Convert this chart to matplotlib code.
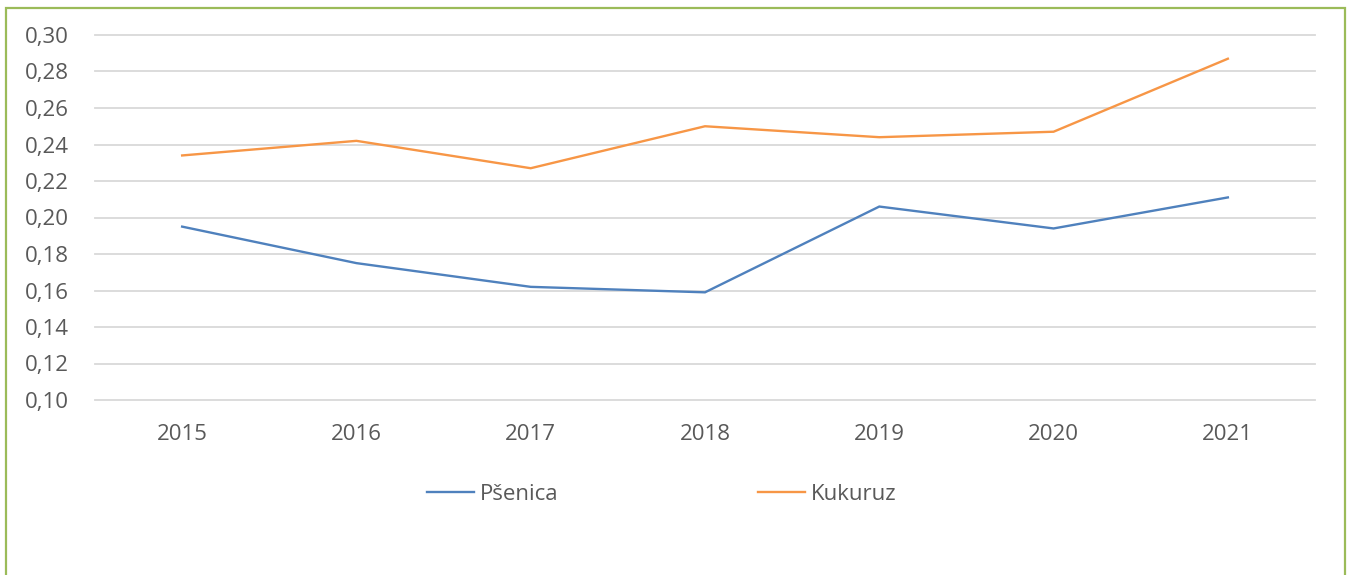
import matplotlib
matplotlib.use("Agg")
import matplotlib.pyplot as plt
from matplotlib.patches import Rectangle
from matplotlib.ticker import FuncFormatter

years = ["2015", "2016", "2017", "2018", "2019", "2020", "2021"]
psenica = [0.195, 0.175, 0.162, 0.159, 0.206, 0.194, 0.211]
kukuruz = [0.234, 0.242, 0.227, 0.250, 0.244, 0.247, 0.287]
series_names = ["Pšenica", "Kukuruz"]
yticks = [0.10, 0.12, 0.14, 0.16, 0.18, 0.20, 0.22, 0.24, 0.26, 0.28, 0.30]

plt.rcParams['font.family'] = ['Open Sans', 'DejaVu Sans']
W, H = 1352, 575
FS = 16
fig = plt.figure(figsize=(W / 100, H / 100), dpi=100)
ax = fig.add_axes([95 / W, 1 - 400 / H, (1315 - 95) / W, (400 - 35) / H])

x = list(range(len(years)))
l1, = ax.plot(x, psenica, color="#4F81BD", lw=1.7, solid_joinstyle="miter")
l2, = ax.plot(x, kukuruz, color="#F79646", lw=1.7, solid_joinstyle="miter")

ax.set_xlim(-0.5, len(years) - 0.5)
ax.set_ylim(0.10, 0.30)
ax.set_yticks(yticks)
ax.yaxis.set_major_formatter(FuncFormatter(lambda v, p: f"{v:.2f}".replace(".", ",")))
ax.set_xticks(x)
ax.set_xticklabels(years)
ax.grid(axis="y", color="#D9D9D9", lw=1.3)
for gl in ax.get_ygridlines():
    gl.set_clip_on(False)
ax.set_axisbelow(True)
for s in ax.spines.values():
    s.set_visible(False)
ax.tick_params(axis="both", length=0, colors="#595959", labelsize=FS)
ax.tick_params(axis="y", pad=19)
ax.tick_params(axis="x", pad=17)

leg = fig.legend([l1, l2], series_names, loc="center left", ncol=2,
                 bbox_to_anchor=(427 / W, 1 - 494 / H), frameon=False,
                 borderpad=0, borderaxespad=0,
                 fontsize=FS, handlelength=2.1, handletextpad=0.3,
                 columnspacing=8.95, labelcolor="#595959")

border = Rectangle((6 / W, -0.1), (1345 - 6) / W, 1 - 8 / H + 0.1,
                   transform=fig.transFigure, fill=False,
                   edgecolor="#9BBB59", lw=1.6, clip_on=False)
fig.patches.append(border)

fig.savefig("out.png", dpi=100)
